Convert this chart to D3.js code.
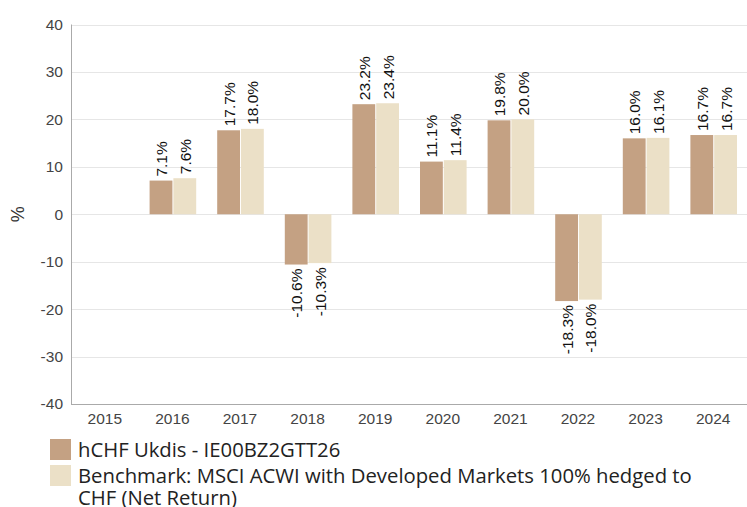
<!DOCTYPE html>
<html>
<head>
<meta charset="utf-8">
<script src="https://cdn.jsdelivr.net/npm/d3@7"></script>
<style>
  body { margin: 0; background: #fff; }
  svg { display: block; }
</style>
</head>
<body>
<svg id="chart" width="747" height="507"></svg>
<script>
const years = ['2015', '2016', '2017', '2018', '2019', '2020', '2021', '2022', '2023', '2024'];
const fundValues = [null, 7.1, 17.7, -10.6, 23.2, 11.1, 19.8, -18.3, 16.0, 16.7];
const benchValues = [null, 7.6, 18.0, -10.3, 23.4, 11.4, 20.0, -18.0, 16.1, 16.7];
const yTicks = [-40, -30, -20, -10, 0, 10, 20, 30, 40];
const seriesNames = ['hCHF Ukdis - IE00BZ2GTT26', 'Benchmark: MSCI ACWI with Developed Markets 100% hedged to CHF (Net Return)'];
const seriesColors = ['#c4a183', '#ebe0c7'];

const svg = d3.select('#chart');
const margin = {left: 71, top: 24.5, right: 0, bottom: 103};
const W = 747, H = 507;

const x = d3.scaleBand().domain(years).range([margin.left, W - margin.right]).paddingInner(0).paddingOuter(0);
const y = d3.scaleLinear().domain([-40, 40]).range([H - margin.bottom, margin.top]);
const inner = d3.scaleBand().domain([0, 1]).range([11, x.bandwidth() - 10]).paddingInner(0.04);

// gridlines
svg.append('g')
  .selectAll('line')
  .data(yTicks)
  .join('line')
    .attr('x1', margin.left).attr('x2', W)
    .attr('y1', d => Math.round(y(d)) + 0.5).attr('y2', d => Math.round(y(d)) + 0.5)
    .attr('stroke', '#e6e6e6').attr('stroke-width', 1);

// y tick labels
svg.append('g')
  .selectAll('text')
  .data(yTicks)
  .join('text')
    .attr('x', margin.left - 8)
    .attr('y', d => y(d))
    .attr('dy', '0.35em')
    .attr('text-anchor', 'end')
    .attr('font-family', 'Liberation Sans, Arial, sans-serif')
    .attr('font-size', 15.5)
    .attr('fill', '#444')
    .text(d => d);

// y title
svg.append('text')
  .attr('transform', `translate(24, ${y(0)}) rotate(-90)`)
  .attr('text-anchor', 'middle')
  .attr('font-family', 'Liberation Sans, Arial, sans-serif')
  .attr('font-size', 18)
  .attr('fill', '#333')
  .text('%');

// bars
const series = [fundValues, benchValues];
series.forEach((vals, s) => {
  const data = years.map((yr, i) => ({year: yr, v: vals[i]})).filter(d => d.v !== null);
  svg.append('g')
    .selectAll('rect')
    .data(data)
    .join('rect')
      .attr('x', d => x(d.year) + inner(s))
      .attr('width', inner.bandwidth())
      .attr('y', d => y(Math.max(0, d.v)))
      .attr('height', d => Math.abs(y(d.v) - y(0)))
      .attr('fill', seriesColors[s]);

  svg.append('g')
    .selectAll('text')
    .data(data)
    .join('text')
      .attr('transform', d => {
        const cx = x(d.year) + inner(s) + inner.bandwidth() / 2;
        const yy = d.v >= 0 ? y(d.v) - 4 : y(d.v) + 4;
        return `translate(${cx + 6}, ${yy}) rotate(-90)`;
      })
      .attr('text-anchor', d => d.v >= 0 ? 'start' : 'end')
      .attr('font-family', 'Liberation Sans, Arial, sans-serif')
      .attr('font-size', 15.5)
      .attr('fill', '#111')
      .text(d => d.v.toFixed(1) + '%');
});

// axes lines
svg.append('line')
  .attr('x1', margin.left + 0.5).attr('x2', margin.left + 0.5)
  .attr('y1', margin.top).attr('y2', y(-40))
  .attr('stroke', '#aaa');
svg.append('line')
  .attr('x1', margin.left).attr('x2', W)
  .attr('y1', Math.round(y(-40)) + 0.5).attr('y2', Math.round(y(-40)) + 0.5)
  .attr('stroke', '#aaa');

// x labels
svg.append('g')
  .selectAll('text')
  .data(years)
  .join('text')
    .attr('x', d => x(d) + x.bandwidth() / 2)
    .attr('y', y(-40) + 19.5)
    .attr('text-anchor', 'middle')
    .attr('font-family', 'Liberation Sans, Arial, sans-serif')
    .attr('font-size', 15.5)
    .attr('fill', '#444')
    .text(d => d);

// legend
const legend = svg.append('g').attr('font-family', 'Open Sans, sans-serif').attr('font-size', 20.3).attr('fill', '#222');
legend.append('rect').attr('x', 50).attr('y', 439).attr('width', 21).attr('height', 21).attr('fill', seriesColors[0]);
legend.append('text').attr('x', 78).attr('y', 457).text(seriesNames[0]);
legend.append('rect').attr('x', 50).attr('y', 465).attr('width', 21).attr('height', 21).attr('fill', seriesColors[1]);
const t2 = legend.append('text').attr('x', 78).attr('y', 483);
t2.append('tspan').attr('x', 78).text('Benchmark: MSCI ACWI with Developed Markets 100% hedged to');
t2.append('tspan').attr('x', 78).attr('dy', 22).text('CHF (Net Return)');
</script>
</body>
</html>
